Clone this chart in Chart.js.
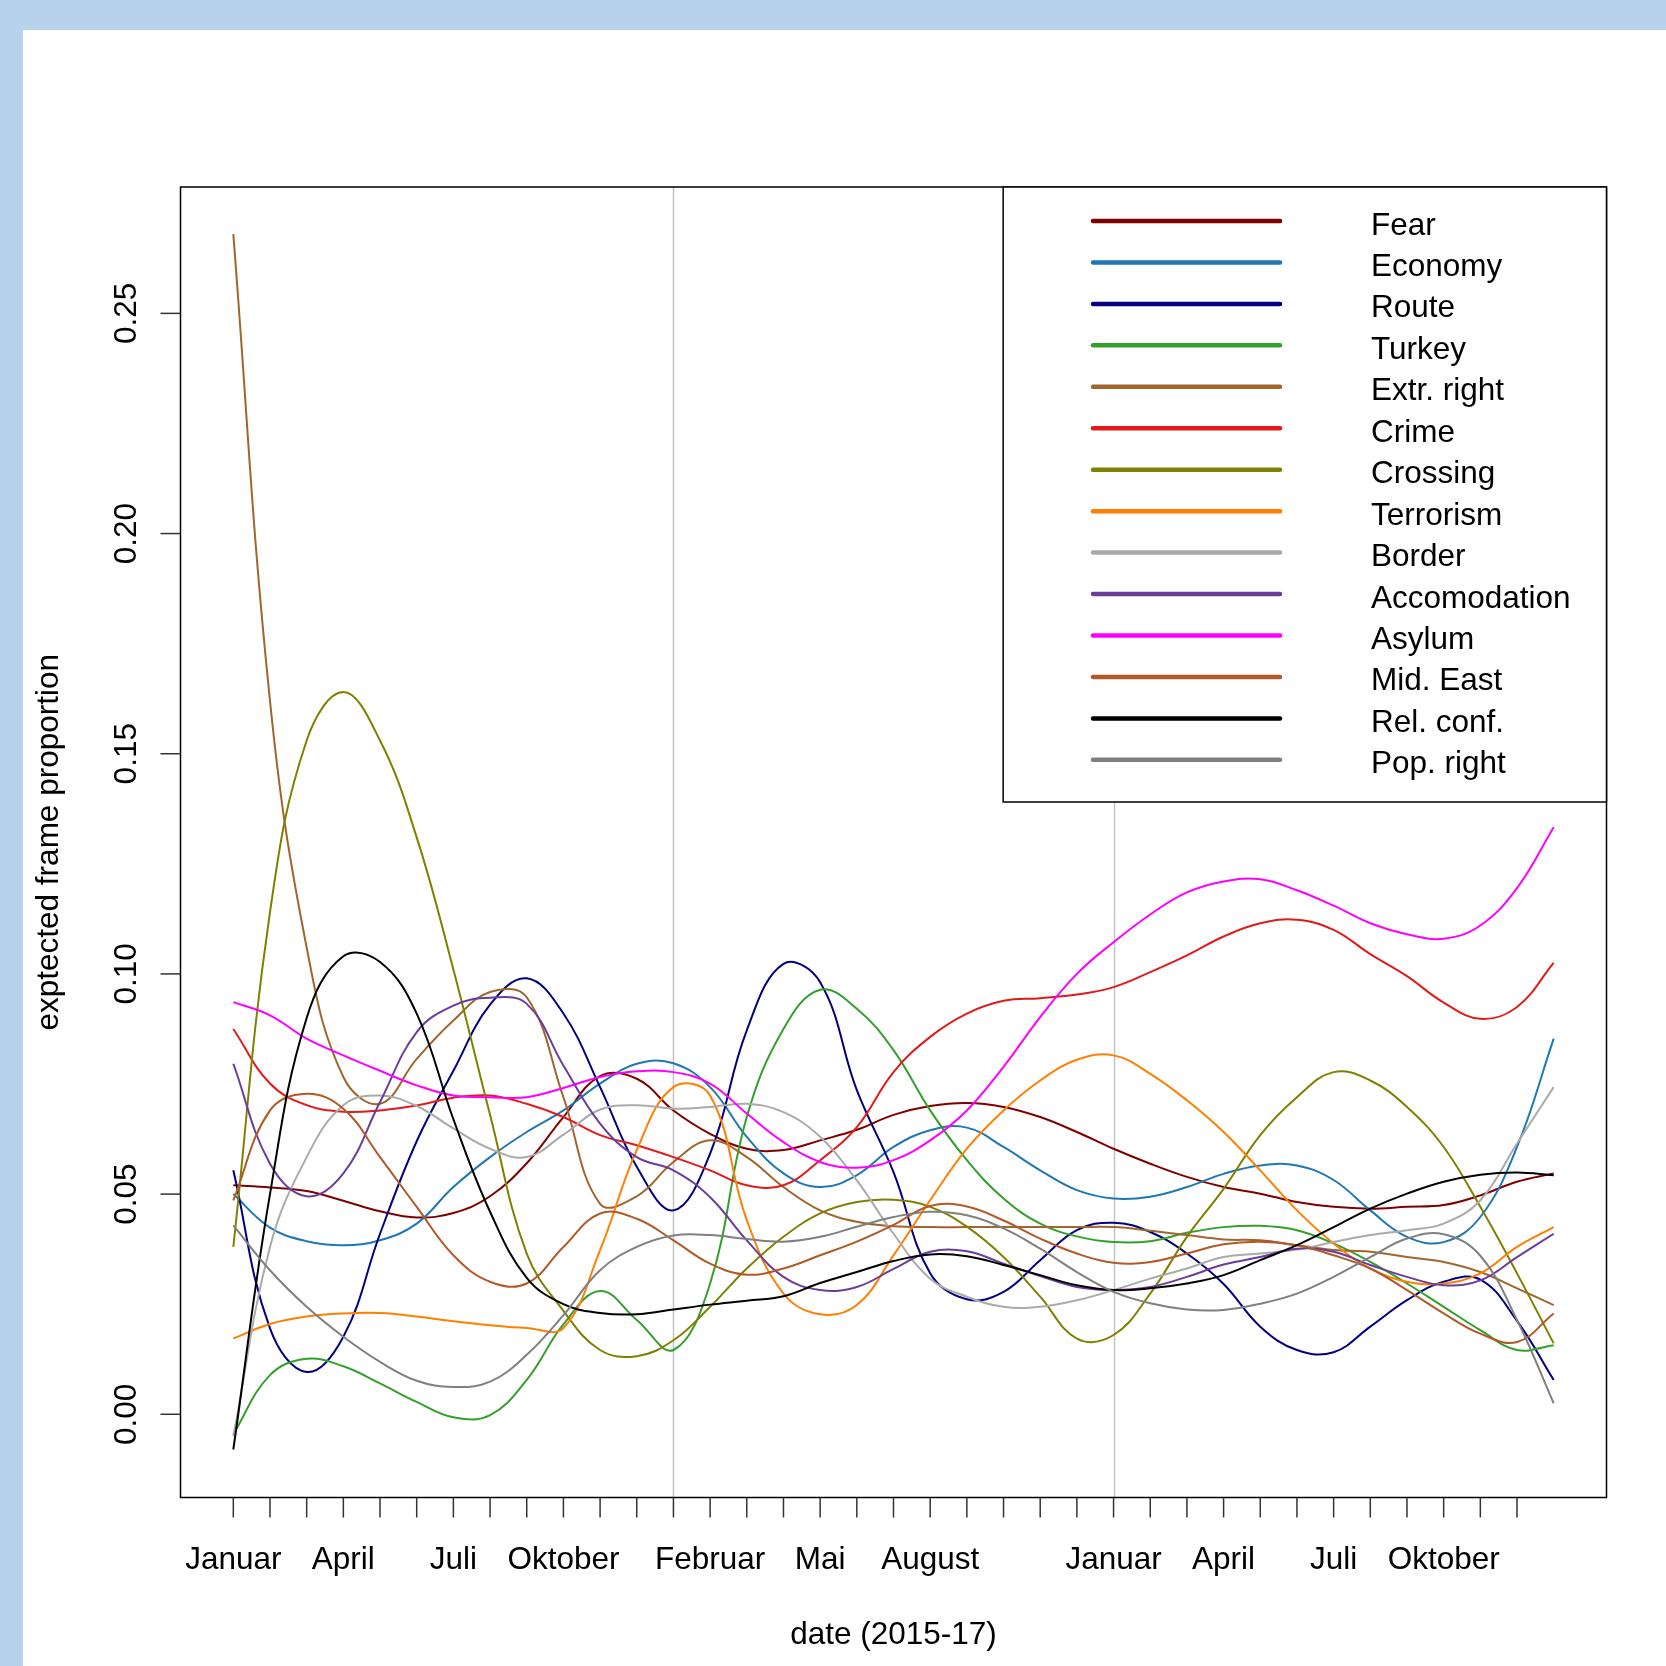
<!DOCTYPE html>
<html lang="de">
<head>
  <meta charset="UTF-8" />
  <title>Frame proportions 2015-17</title>
  <script src="https://cdn.jsdelivr.net/npm/chart.js"></script>
  <style>
    body, html {
      margin: 0;
      padding: 0;
      background: #b7d3ec;
    }
    #chart {
      display: block;
    }
  </style>
</head>
<body>
  <canvas id="chart" width="1666" height="1666"></canvas>

  <script>
    // months since Januar 2015
    const months = [0,1,2,3,4,5,6,7,8,9,10,11,12,13,14,15,16,17,18,19,20,21,22,23,24,25,26,27,28,29,30,31,32,33,34,35,36];

    const fear = [0.052,0.0515,0.0507,0.0485,0.0461,0.0447,0.0457,0.0495,0.057,0.0675,0.0768,0.0762,0.069,0.0637,0.0603,0.060,0.0622,0.0646,0.068,0.070,0.0707,0.0698,0.0675,0.0641,0.0603,0.0569,0.0539,0.0516,0.0501,0.0482,0.0471,0.0467,0.0471,0.0475,0.0497,0.0528,0.0547];
    const economy = [0.050,0.0424,0.0393,0.0384,0.0395,0.0433,0.0516,0.0584,0.0641,0.069,0.0751,0.0796,0.0797,0.0743,0.063,0.0547,0.0516,0.0543,0.0607,0.0645,0.0651,0.0607,0.0554,0.0509,0.049,0.0494,0.0516,0.0546,0.0565,0.0565,0.0532,0.0463,0.0403,0.0391,0.0448,0.0607,0.0853];
    const route = [0.0554,0.0195,0.0096,0.0176,0.041,0.062,0.078,0.093,0.099,0.091,0.0743,0.0562,0.0463,0.0592,0.0872,0.1023,0.0981,0.0736,0.055,0.032,0.0261,0.0278,0.035,0.0418,0.0435,0.0414,0.0365,0.0296,0.0199,0.0146,0.0141,0.0199,0.0259,0.0301,0.0306,0.0212,0.0078];
    const turkey = [-0.0045,0.0089,0.0126,0.0109,0.007,0.0028,-0.0007,-0.0002,0.0078,0.0204,0.028,0.0214,0.0146,0.0297,0.0675,0.0875,0.0964,0.0921,0.0827,0.069,0.0577,0.049,0.0433,0.0404,0.0391,0.0393,0.0412,0.0425,0.0428,0.0418,0.0388,0.0346,0.0297,0.0244,0.0191,0.0146,0.0157];
    const extrRight = [0.268,0.162,0.106,0.0766,0.0705,0.0807,0.0894,0.0959,0.0947,0.072,0.0478,0.0495,0.0573,0.0622,0.0584,0.0516,0.0463,0.0437,0.0427,0.0425,0.0425,0.0425,0.0425,0.0425,0.0425,0.0417,0.0407,0.0397,0.0395,0.0384,0.0373,0.0369,0.0357,0.0346,0.0323,0.0286,0.0248];
    const crime = [0.0875,0.0751,0.0702,0.0687,0.069,0.0701,0.0719,0.0724,0.0705,0.0675,0.0634,0.0611,0.0584,0.0554,0.052,0.052,0.0577,0.0652,0.0777,0.0857,0.091,0.0939,0.0945,0.0953,0.097,0.1004,0.1042,0.1085,0.1115,0.1123,0.110,0.1045,0.0995,0.0935,0.0898,0.0925,0.1025];
    const crossing = [0.038,0.114,0.153,0.164,0.153,0.131,0.101,0.068,0.0365,0.0235,0.0146,0.0132,0.0168,0.0244,0.0331,0.0403,0.0456,0.0482,0.0487,0.0471,0.0426,0.0357,0.0267,0.0172,0.018,0.0274,0.0403,0.0512,0.0634,0.072,0.0777,0.0758,0.0698,0.0607,0.0471,0.032,0.0161];
    const terrorism = [0.0172,0.0205,0.0222,0.0229,0.023,0.0222,0.0211,0.0202,0.0196,0.0196,0.0373,0.060,0.0743,0.0724,0.0441,0.0274,0.0227,0.0248,0.0361,0.0486,0.0603,0.069,0.0758,0.0805,0.0815,0.0773,0.0713,0.0641,0.0554,0.0463,0.0388,0.0331,0.0301,0.0297,0.032,0.038,0.0425];
    const border = [-0.005,0.038,0.0584,0.0702,0.0724,0.070,0.0649,0.0603,0.0584,0.0635,0.0692,0.0702,0.0694,0.0698,0.0705,0.0686,0.063,0.0531,0.041,0.0308,0.0267,0.0244,0.0244,0.0259,0.0282,0.0308,0.0331,0.0357,0.0365,0.0374,0.0391,0.0407,0.0418,0.0433,0.0486,0.0615,0.0743];
    const accomodation = [0.0796,0.0569,0.0495,0.0547,0.0709,0.0868,0.0928,0.0946,0.0932,0.0792,0.066,0.0584,0.0554,0.0493,0.0395,0.0312,0.0282,0.0289,0.033,0.0369,0.037,0.0342,0.0314,0.0289,0.0282,0.0289,0.0312,0.034,0.0357,0.0376,0.0369,0.0339,0.0312,0.0293,0.0304,0.0357,0.041];
    const asylum = [0.0936,0.0906,0.0853,0.0815,0.078,0.0747,0.0724,0.072,0.072,0.0741,0.0766,0.0779,0.0777,0.0751,0.0683,0.0618,0.0573,0.056,0.0577,0.0622,0.069,0.0789,0.0902,0.100,0.1072,0.1135,0.1185,0.121,0.1215,0.119,0.1155,0.1115,0.109,0.108,0.111,0.1195,0.1333];
    const midEast = [0.0486,0.069,0.0728,0.0694,0.0584,0.0471,0.0361,0.0301,0.0297,0.038,0.0456,0.0444,0.0395,0.0342,0.0317,0.0331,0.0361,0.0392,0.043,0.0473,0.0472,0.044,0.0399,0.0365,0.0344,0.0346,0.0365,0.0386,0.0392,0.0384,0.0361,0.0331,0.0282,0.0229,0.0183,0.0164,0.0229];
    const relConf = [-0.008,0.050,0.090,0.104,0.1027,0.091,0.067,0.046,0.031,0.025,0.023,0.0227,0.0238,0.0249,0.0258,0.0268,0.0298,0.0323,0.0348,0.0363,0.0359,0.0339,0.0316,0.0293,0.0282,0.0286,0.0297,0.0316,0.035,0.0384,0.0425,0.0467,0.0501,0.0528,0.0544,0.0549,0.0543];
    const popRight = [0.0429,0.0327,0.0244,0.0176,0.0119,0.0076,0.0062,0.0074,0.0135,0.0225,0.0327,0.038,0.0406,0.0407,0.0398,0.0392,0.0403,0.0426,0.0448,0.046,0.0452,0.0422,0.0376,0.0323,0.0278,0.0252,0.0238,0.0237,0.0251,0.0274,0.0312,0.0357,0.0399,0.0409,0.036,0.0214,0.0025];

    const seriesNames = ['Fear', 'Economy', 'Route', 'Turkey', 'Extr. right', 'Crime', 'Crossing', 'Terrorism', 'Border', 'Accomodation', 'Asylum', 'Mid. East', 'Rel. conf.', 'Pop. right'];
    const seriesValues = [fear, economy, route, turkey, extrRight, crime, crossing, terrorism, border, accomodation, asylum, midEast, relConf, popRight];
    const seriesColors = ['#800000', '#1f78b4', '#000080', '#33a02c', '#a0662e', '#e31a1c', '#808000', '#ff7f00', '#aaaaaa', '#6a3d9a', '#ff00ff', '#b15928', '#000000', '#808080'];

    // axis ticks
    const xTickMonths = [0,1,2,3,4,5,6,7,8,9,10,11,12,13,14,15,16,17,18,19,20,21,22,23,24,25,26,27,28,29,30,31,32,33,34,35];
    const xLabelMonths = [0, 3, 6, 9, 13, 16, 19, 24, 27, 30, 33];
    const xLabelNames = ['Januar', 'April', 'Juli', 'Oktober', 'Februar', 'Mai', 'August', 'Januar', 'April', 'Juli', 'Oktober'];
    const yTicks = [0, 0.05, 0.10, 0.15, 0.20, 0.25];
    const yTickLabels = ['0.00', '0.05', '0.10', '0.15', '0.20', '0.25'];
    const yearLines = [12, 24];

    const FONT = '31.5px "Liberation Sans", Arial, sans-serif';

    const rStyle = {
      id: 'rStyle',
      beforeDraw(chart) {
        const ctx = chart.ctx;
        ctx.save();
        ctx.fillStyle = '#b7d3ec';
        ctx.fillRect(0, 0, chart.width, chart.height);
        ctx.fillStyle = '#ffffff';
        ctx.fillRect(23, 30, chart.width - 23, chart.height - 30);
        ctx.restore();
      },
      beforeDatasetsDraw(chart) {
        const ctx = chart.ctx;
        const a = chart.chartArea;
        const x = chart.scales.x;
        ctx.save();
        ctx.strokeStyle = '#c4c4c4';
        ctx.lineWidth = 1.5;
        yearLines.forEach(m => {
          const px = Math.round(x.getPixelForValue(m)) + 0.5;
          ctx.beginPath();
          ctx.moveTo(px, a.top);
          ctx.lineTo(px, a.bottom);
          ctx.stroke();
        });
        ctx.restore();
      },
      afterDraw(chart) {
        const ctx = chart.ctx;
        const a = chart.chartArea;
        const x = chart.scales.x;
        const y = chart.scales.y;
        ctx.save();

        // plot box
        ctx.strokeStyle = '#000';
        ctx.lineWidth = 1.5;
        ctx.strokeRect(a.left, a.top, a.right - a.left, a.bottom - a.top);

        // x ticks and labels
        ctx.strokeStyle = '#333';
        ctx.lineWidth = 1.5;
        xTickMonths.forEach(m => {
          const px = x.getPixelForValue(m);
          ctx.beginPath();
          ctx.moveTo(px, a.bottom);
          ctx.lineTo(px, a.bottom + 20);
          ctx.stroke();
        });
        ctx.fillStyle = '#000';
        ctx.font = FONT;
        ctx.textAlign = 'center';
        ctx.textBaseline = 'alphabetic';
        xLabelMonths.forEach((m, i) => {
          ctx.fillText(xLabelNames[i], x.getPixelForValue(m), 1568.5);
        });
        ctx.fillText('date (2015-17)', (a.left + a.right) / 2, 1643.5);

        // y ticks and rotated labels
        yTicks.forEach((v, i) => {
          const py = y.getPixelForValue(v);
          ctx.beginPath();
          ctx.moveTo(a.left - 20, py);
          ctx.lineTo(a.left, py);
          ctx.stroke();
          ctx.save();
          ctx.translate(136, py);
          ctx.rotate(-Math.PI / 2);
          ctx.fillText(yTickLabels[i], 0, 0);
          ctx.restore();
        });
        ctx.save();
        ctx.translate(58, (a.top + a.bottom) / 2);
        ctx.rotate(-Math.PI / 2);
        ctx.fillText('exptected frame proportion', 0, 0);
        ctx.restore();

        // legend box
        const lx = x.getPixelForValue(20.99);
        const lb = 802;
        ctx.fillStyle = '#fff';
        ctx.fillRect(lx, a.top, a.right - lx, lb - a.top);
        ctx.strokeStyle = '#000';
        ctx.lineWidth = 1.5;
        ctx.strokeRect(lx, a.top, a.right - lx, lb - a.top);
        ctx.lineCap = 'round';
        ctx.lineWidth = 4.5;
        ctx.textAlign = 'left';
        seriesNames.forEach((name, i) => {
          const ry = 221 + i * 41.45;
          ctx.strokeStyle = seriesColors[i];
          ctx.beginPath();
          ctx.moveTo(1093, ry);
          ctx.lineTo(1280, ry);
          ctx.stroke();
          ctx.fillStyle = '#000';
          ctx.fillText(name, 1371, ry + 13.5);
        });
        ctx.restore();
      }
    };

    const datasets = seriesNames.map((name, i) => ({
      label: name,
      data: months.map((m, k) => ({ x: m, y: seriesValues[i][k] })),
      borderColor: seriesColors[i],
      borderWidth: 2,
      pointRadius: 0,
      fill: false,
      tension: 0.4,
      order: seriesNames.length - i
    }));

    new Chart(document.getElementById('chart'), {
      type: 'line',
      data: { datasets },
      options: {
        responsive: false,
        animation: false,
        devicePixelRatio: 1,
        layout: {
          padding: { left: 180.5, top: 187, right: 59.5, bottom: 168.5 }
        },
        plugins: {
          legend: { display: false },
          tooltip: { enabled: false }
        },
        scales: {
          x: { type: 'linear', min: -1.44, max: 37.44, display: false },
          y: { type: 'linear', min: -0.0189, max: 0.2787, display: false }
        }
      },
      plugins: [rStyle]
    });
  </script>
</body>
</html>
